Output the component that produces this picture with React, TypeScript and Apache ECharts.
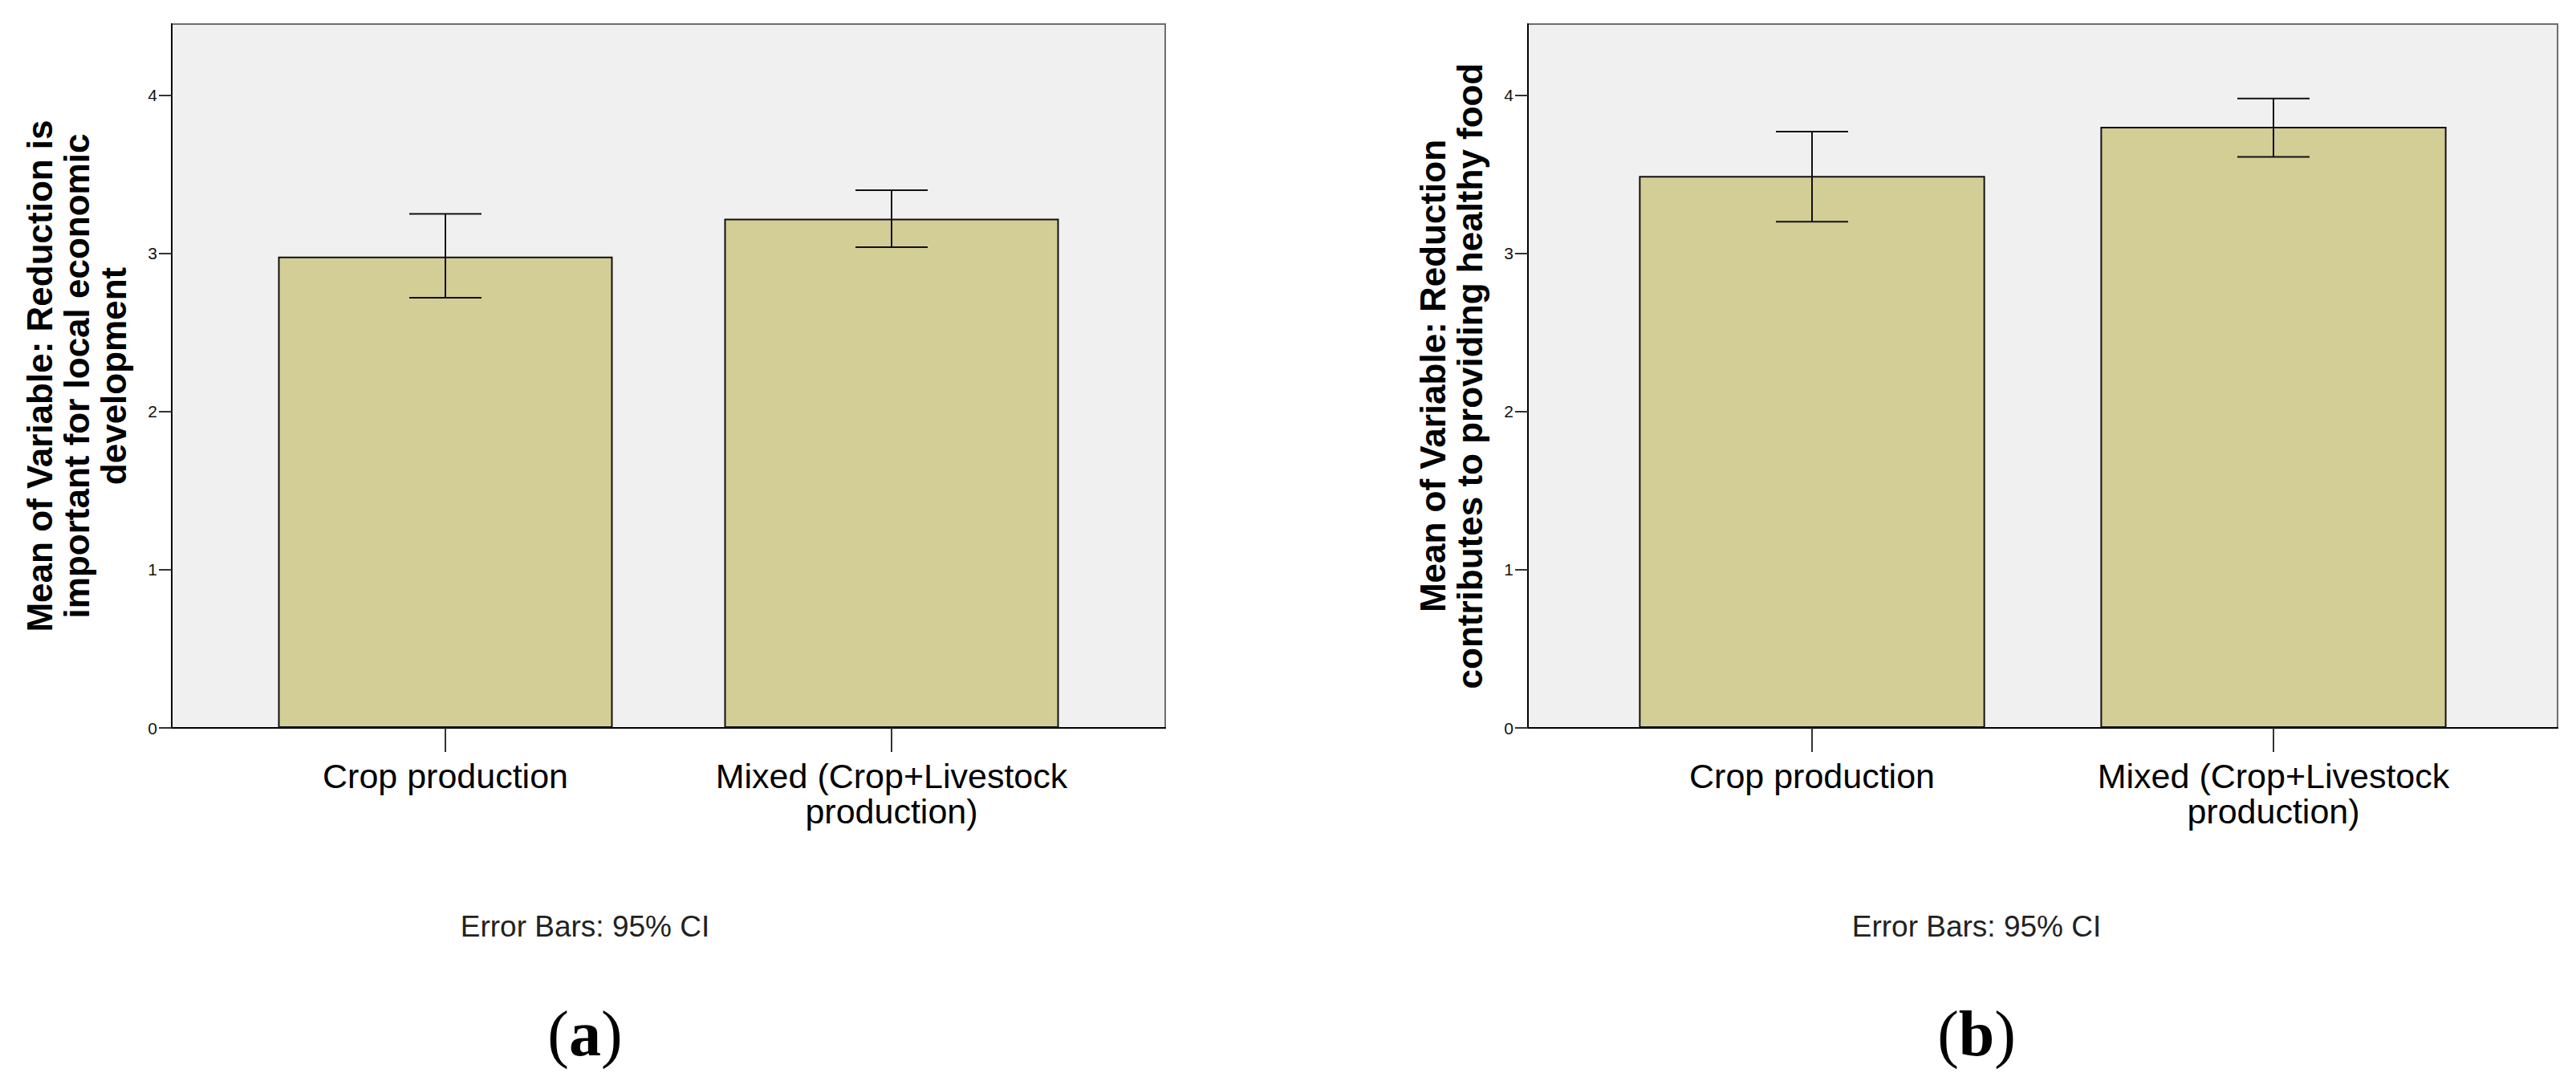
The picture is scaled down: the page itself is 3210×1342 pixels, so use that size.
import React, { useEffect, useRef } from "react";
import * as echarts from "echarts";

// ---- Data ----
const categories = ["Crop production", "Mixed (Crop+Livestock\nproduction)"];
const yTicks = [0, 1, 2, 3, 4];
const yMax = 4.45;

// Panel (a): Reduction is important for local economic development
const titleA = "Mean of Variable: Reduction is\nimportant for local economic\ndevelopment";
const meansA = [2.98, 3.22];
const lowerA = [2.72, 3.04];
const upperA = [3.25, 3.4];

// Panel (b): Reduction contributes to providing healthy food
const titleB = "Mean of Variable: Reduction\ncontributes to providing healthy food";
const meansB = [3.49, 3.8];
const lowerB = [3.2, 3.61];
const upperB = [3.77, 3.98];

const footnote = "Error Bars: 95% CI";
const panelLabels = ["a", "b"];

const FONT = "'Liberation Sans', Arial, sans-serif";
const SERIF = "'Liberation Serif', 'Times New Roman', serif";
const BAR_COLOR = "#d3cd96";

function errorSeries(xi: number, yi: number, lower: number[], upper: number[]) {
  return {
    type: "custom",
    xAxisIndex: xi,
    yAxisIndex: yi,
    z: 5,
    data: lower.map((l, i) => [i, l, upper[i]]),
    encode: { x: 0, y: [1, 2] },
    renderItem: (params: any, api: any) => {
      const lo = api.coord([api.value(0), api.value(1)]);
      const hi = api.coord([api.value(0), api.value(2)]);
      const hw = 45;
      const style = { stroke: "#111", lineWidth: 2 };
      return {
        type: "group",
        children: [
          { type: "line", shape: { x1: lo[0], y1: lo[1], x2: hi[0], y2: hi[1] }, style },
          { type: "line", shape: { x1: hi[0] - hw, y1: hi[1], x2: hi[0] + hw, y2: hi[1] }, style },
          { type: "line", shape: { x1: lo[0] - hw, y1: lo[1], x2: lo[0] + hw, y2: lo[1] }, style },
        ],
      };
    },
  };
}

function frameX(gi: number) {
  return {
    type: "value",
    gridIndex: gi,
    min: 0,
    max: 1,
    axisLine: { show: true, lineStyle: { color: "#000", width: 2 } },
    axisTick: { show: false },
    axisLabel: { show: false },
    splitLine: { show: false },
  };
}

function frameY(gi: number, name: string) {
  return {
    type: "value",
    gridIndex: gi,
    min: 0,
    max: yMax,
    name,
    nameLocation: "middle",
    nameGap: 50,
    nameTextStyle: {
      fontFamily: FONT,
      fontWeight: "bold",
      fontSize: 44,
      lineHeight: 46,
      color: "#000",
      align: "center",
    },
    axisLine: { show: true, lineStyle: { color: "#000", width: 2 } },
    axisTick: {
      show: true,
      customValues: yTicks,
      length: 16,
      lineStyle: { color: "#333", width: 2 },
    },
    axisLabel: {
      show: true,
      customValues: yTicks,
      margin: 18,
      fontFamily: FONT,
      fontSize: 21,
      color: "#111",
    },
    splitLine: { show: false },
  };
}

function barX(gi: number) {
  return {
    type: "category",
    gridIndex: gi,
    data: categories,
    boundaryGap: true,
    axisLine: { show: false },
    axisTick: {
      show: true,
      alignWithLabel: true,
      interval: 0,
      length: 30,
      lineStyle: { color: "#333", width: 2 },
    },
    axisLabel: {
      interval: 0,
      hideOverlap: false,
      margin: 38,
      fontFamily: FONT,
      fontSize: 43,
      lineHeight: 44,
      color: "#000",
      align: "center",
    },
  };
}

function barY(gi: number) {
  return { type: "value", gridIndex: gi, min: 0, max: yMax, show: false, splitLine: { show: false } };
}

function barSeries(xi: number, yi: number, values: number[]) {
  return {
    type: "bar",
    xAxisIndex: xi,
    yAxisIndex: yi,
    data: values,
    barCategoryGap: "25%",
    itemStyle: { color: BAR_COLOR, borderColor: "#111", borderWidth: 2 },
    z: 3,
  };
}

function panelText(cx: number, label: string) {
  return [
    {
      type: "text",
      x: cx,
      y: 1154,
      style: {
        text: footnote,
        font: `37px ${FONT}`,
        fill: "#222",
        align: "center",
        verticalAlign: "middle",
      },
    },
    {
      type: "text",
      x: cx,
      y: 1288,
      style: {
        text: "{p|(}{b|" + label + "}{p|)}",
        align: "center",
        verticalAlign: "middle",
        rich: {
          p: { fontFamily: SERIF, fontSize: 80, fill: "#000", fontWeight: "normal" },
          b: { fontFamily: SERIF, fontSize: 80, fill: "#000", fontWeight: "bold" },
        },
      },
    },
  ];
}

export default function App() {
  const ref = useRef<HTMLDivElement>(null);

  useEffect(() => {
    if (!ref.current) return;
    const chart = echarts.init(ref.current, null, { renderer: "svg" });
    const frameStyle = {
      show: true,
      backgroundColor: "#f0f0f0",
      borderColor: "#6e6e6e",
      borderWidth: 2,
    };
    chart.setOption({
      animation: false,
      backgroundColor: "#ffffff",
      grid: [
        { left: 214, top: 30, width: 1238, height: 877, ...frameStyle },
        { left: 277, top: 30, width: 1112, height: 877, show: false },
        { left: 1904, top: 30, width: 1283, height: 877, ...frameStyle },
        { left: 1970.5, top: 30, width: 1150, height: 877, show: false },
      ],
      xAxis: [frameX(0), barX(1), frameX(2), barX(3)],
      yAxis: [frameY(0, titleA), barY(1), frameY(2, titleB), barY(3)],
      series: [
        barSeries(1, 1, meansA),
        errorSeries(1, 1, lowerA, upperA),
        barSeries(3, 3, meansB),
        errorSeries(3, 3, lowerB, upperB),
      ],
      graphic: [...panelText(729, panelLabels[0]), ...panelText(2463, panelLabels[1])],
    });
    return () => chart.dispose();
  }, []);

  return (
    <div
      ref={ref}
      style={{ position: "absolute", left: 0, top: 0, width: 3210, height: 1342, background: "#fff" }}
    />
  );
}
